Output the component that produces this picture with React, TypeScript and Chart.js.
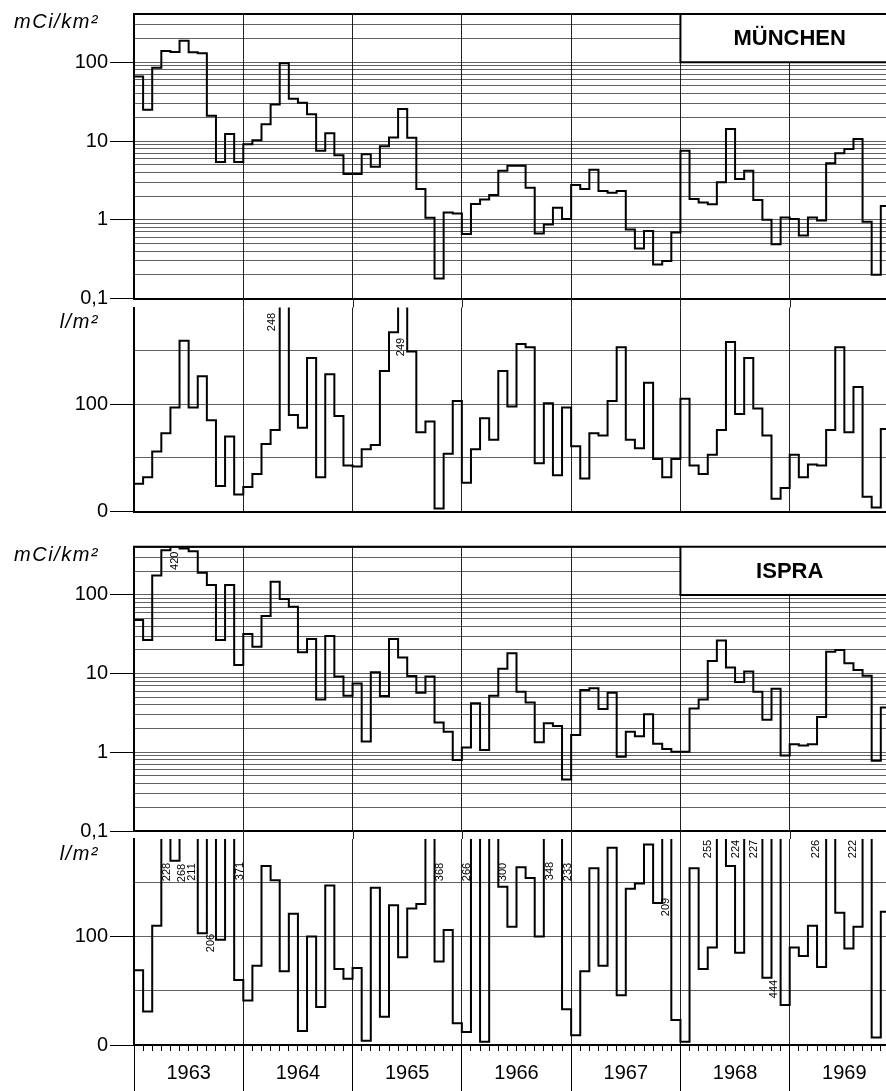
import React, { useEffect, useRef } from 'react';
import { Chart, registerables } from 'chart.js';

Chart.register(...registerables);
Chart.defaults.font.family = '"Liberation Sans", Arial, Helvetica, sans-serif';
Chart.defaults.color = '#000';

// ---------- data (monthly values, Jan 1963 .. Nov 1969) ----------
const YEARS = ['1963', '1964', '1965', '1966', '1967', '1968', '1969'];

const MUENCHEN_FALLOUT = [
  66, 25, 85, 139, 135, 188, 134, 130, 21, 5.4, 12.3, 5.4,
  9.1, 10.2, 16.3, 29, 97, 34.5, 30.7, 21.8, 7.5, 12.5, 6.6, 3.8,
  3.8, 6.8, 4.7, 8.6, 11.1, 25.5, 11, 2.45, 1.06, 0.18, 1.24, 1.2,
  0.66, 1.58, 1.81, 2.06, 4.2, 4.85, 4.85, 2.55, 0.67, 0.87, 1.42, 1.02,
  2.76, 2.45, 4.3, 2.31, 2.2, 2.31, 0.75, 0.43, 0.72, 0.27, 0.3, 0.69,
  7.5, 1.83, 1.66, 1.57, 3.0, 14.2, 3.3, 4.2, 1.78, 1.0, 0.49, 1.07,
  1.02, 0.63, 1.07, 0.98, 5.2, 7.0, 7.9, 10.6, 0.94, 0.2, 1.5,
];

const MUENCHEN_RAIN = [
  26, 32, 56, 73, 97, 159, 97, 126, 85, 24, 70, 16,
  23, 35, 63, 76, 248, 90, 78, 143, 32, 128, 89, 43,
  42, 58, 62, 131, 167, 249, 149, 74, 84, 3, 54, 103,
  27, 58, 87, 67, 131, 98, 156, 153, 45, 101, 34, 97,
  61, 31, 73, 71, 103, 153, 67, 59, 120, 49, 32, 49,
  105, 43, 35, 53, 76, 158, 91, 143, 96, 71, 12, 22,
  53, 32, 44, 43, 76, 153, 74, 116, 14, 4, 77,
];

const ISPRA_FALLOUT = [
  48, 26.8, 176, 370, 420, 390, 360, 192, 134, 26.8, 134, 12.9,
  31.9, 22, 54, 147, 89, 71, 18.7, 27.6, 4.7, 30, 9.2, 5.25,
  7.5, 1.37, 10.4, 5.2, 27.6, 16, 9.3, 5.7, 9.2, 2.4, 1.83, 0.8,
  1.15, 4.2, 1.07, 5.25, 11.5, 18.1, 5.9, 4.3, 1.34, 2.34, 2.16, 0.45,
  1.66, 6.2, 6.5, 3.56, 5.7, 0.88, 1.83, 1.6, 3.04, 1.28, 1.1, 1.02,
  1.02, 3.6, 4.7, 14.5, 26.3, 12, 7.8, 10.6, 5.9, 2.6, 6.4, 0.91,
  1.27, 1.22, 1.27, 2.8, 19, 20, 13.5, 11.1, 9.4, 0.78, 3.7,
];

const ISPRA_RAIN = [
  69, 31, 110, 228, 170, 268, 211, 103, 206, 97, 371, 60,
  41, 73, 165, 152, 68, 121, 13, 100, 35, 147, 70, 61,
  71, 4, 145, 26, 129, 81, 126, 130, 368, 77, 106, 20,
  12, 266, 3, 300, 146, 109, 164, 154, 100, 348, 233, 33,
  9, 68, 163, 73, 182, 46, 144, 149, 185, 131, 209, 23,
  3, 163, 70, 90, 255, 165, 85, 224, 227, 62, 444, 37,
  90, 82, 110, 72, 226, 122, 89, 109, 222, 7, 123,
];

// axis tick values / labels
const LOG_GRID = [
  0.1, 0.2, 0.3, 0.4, 0.5, 0.6, 0.7, 0.8, 0.9,
  1, 2, 3, 4, 5, 6, 7, 8, 9,
  10, 20, 30, 40, 50, 60, 70, 80, 90,
  100, 200, 300, 400,
];
const LOG_LABELS: Record<string, string> = { '0.1': '0,1', '1': '1', '10': '10', '100': '100' };
const RAIN_GRID = [0, 50, 100, 150];
const RAIN_LABELS: Record<string, string> = { '0': '0', '100': '100' };

// ---------- layout ----------
type PanelCfg = {
  id: string;
  values: number[];
  log: boolean;
  canvasTop: number;
  canvasHeight: number;
  areaTop: number;
  areaBottom: number;
  unit: string;
  unitDy: number;
  station?: string;
  topFrame: boolean;
  bottomAxis: boolean;
  connectorGap: number;
  labelPlacement: Record<number, [number, number]>;
};

const FONT = '"Liberation Sans", Arial, Helvetica, sans-serif';
const TOTAL_MONTHS = 84;
const GRID_COLOR = 'rgba(0,0,0,0.62)';
const YEAR_LINE = '#222';
const CLEAR = 'rgba(0,0,0,0)';

const PANELS: PanelCfg[] = [
  {
    id: 'muc-f', values: MUENCHEN_FALLOUT, log: true,
    canvasTop: 0, canvasHeight: 320, areaTop: 14, areaBottom: 298.5,
    unit: 'mCi/km²', unitDy: 8, station: 'MÜNCHEN', topFrame: true, bottomAxis: false,
    connectorGap: 0, labelPlacement: {},
  },
  {
    id: 'muc-r', values: MUENCHEN_RAIN, log: false,
    canvasTop: 290, canvasHeight: 240, areaTop: 307.5, areaBottom: 511.7,
    unit: 'l/m²', unitDy: 15, topFrame: false, bottomAxis: false,
    connectorGap: 9, labelPlacement: { 16: [-1.37, 14.5], 29: [-0.2, 39.5] },
  },
  {
    id: 'isp-f', values: ISPRA_FALLOUT, log: true,
    canvasTop: 520, canvasHeight: 325, areaTop: 546.7, areaBottom: 831,
    unit: 'mCi/km²', unitDy: 9, station: 'ISPRA', topFrame: true, bottomAxis: false,
    connectorGap: 0, labelPlacement: { 4: [0, 14] },
  },
  {
    id: 'isp-r', values: ISPRA_RAIN, log: false,
    canvasTop: 820, canvasHeight: 271, areaTop: 839, areaBottom: 1045,
    unit: 'l/m²', unitDy: 15, topFrame: false, bottomAxis: true,
    connectorGap: 8,
    labelPlacement: {
      3: [0.1, 33], 5: [-0.2, 34], 6: [-0.1, 33], 8: [0, 104], 10: [1.15, 32],
      32: [1.1, 33], 37: [-0.95, 33], 39: [1.0, 33], 45: [0.2, 32], 46: [1.15, 33],
      58: [-0.1, 68], 64: [-1.5, 10], 67: [-1.4, 10], 68: [-0.45, 10], 70: [-0.25, 150],
      76: [-1.65, 10], 80: [-1.6, 10],
    },
  },
];

const decorPlugin = {
  id: 'decor',
  beforeDatasetsDraw(chart: any, _args: any, opts: any) {
    const cfg: PanelCfg = opts.cfg;
    const { ctx, chartArea: a, scales } = chart;
    const xs = scales.x;
    const ys = scales.y;
    ctx.save();
    // year lines continuing through the gap above the panel
    if (cfg.connectorGap) {
      ctx.strokeStyle = YEAR_LINE;
      ctx.lineWidth = 1;
      for (let m = 12; m < TOTAL_MONTHS; m += 12) {
        const px = Math.round(xs.getPixelForValue(m)) + 0.5;
        ctx.beginPath();
        ctx.moveTo(px, a.top - cfg.connectorGap);
        ctx.lineTo(px, a.top);
        ctx.stroke();
      }
    }
    // station box
    if (cfg.station) {
      const x0 = xs.getPixelForValue(60);
      const yb = ys.getPixelForValue(100);
      ctx.fillStyle = '#fff';
      ctx.fillRect(x0, a.top, a.right - x0 + 2, yb - a.top);
      ctx.strokeStyle = '#000';
      ctx.lineWidth = 2;
      ctx.beginPath();
      ctx.moveTo(x0, a.top);
      ctx.lineTo(x0, yb);
      ctx.lineTo(a.right + 2, yb);
      ctx.stroke();
      ctx.fillStyle = '#000';
      ctx.font = `bold 22px ${FONT}`;
      ctx.textAlign = 'center';
      ctx.textBaseline = 'middle';
      ctx.fillText(cfg.station, xs.getPixelForValue(72), (a.top + yb) / 2 + 1);
    }
    // top frame
    if (cfg.topFrame) {
      ctx.strokeStyle = '#000';
      ctx.lineWidth = 2;
      ctx.beginPath();
      ctx.moveTo(a.left - 1, a.top);
      ctx.lineTo(a.right + 2, a.top);
      ctx.stroke();
    }
    // unit label
    ctx.fillStyle = '#000';
    ctx.font = `italic 20px ${FONT}`;
    try { (ctx as any).letterSpacing = '1.5px'; } catch (e) { /* ignore */ }
    ctx.textAlign = 'right';
    ctx.textBaseline = 'middle';
    ctx.fillText(cfg.unit, a.left - 35, a.top + cfg.unitDy);
    try { (ctx as any).letterSpacing = '0px'; } catch (e) { /* ignore */ }
    ctx.restore();
  },
  afterDatasetsDraw(chart: any, _args: any, opts: any) {
    const cfg: PanelCfg = opts.cfg;
    const { ctx, chartArea: a, scales } = chart;
    const yMax = scales.y.max;
    ctx.save();
    ctx.fillStyle = '#000';
    ctx.font = `11px ${FONT}`;
    ctx.textAlign = 'center';
    ctx.textBaseline = 'middle';
    cfg.values.forEach((v, i) => {
      if (v <= yMax) return;
      const place = cfg.labelPlacement[i] || [0, 33];
      const px = scales.x.getPixelForValue(i + 0.5 + place[0]);
      const py = a.top + place[1];
      ctx.save();
      ctx.translate(px, py);
      ctx.rotate(-Math.PI / 2);
      ctx.fillText(String(v), 0, 0);
      ctx.restore();
    });
    ctx.restore();
  },
};

function makeChart(canvas: HTMLCanvasElement, cfg: PanelCfg) {
  const yMax = cfg.log ? 410 : 190;
  const points = cfg.values.map((v, i) => ({ x: i, y: v }));
  points.push({ x: cfg.values.length, y: cfg.values[cfg.values.length - 1] });
  const gridVals = cfg.log ? LOG_GRID : RAIN_GRID;
  const labels = cfg.log ? LOG_LABELS : RAIN_LABELS;
  const bottomAxisHeight = cfg.bottomAxis ? 46 : 0;

  const xTicks: number[] = [];
  const step = cfg.bottomAxis ? 1 : 12;
  for (let m = 0; m <= TOTAL_MONTHS; m += step) xTicks.push(m);
  const halfYears: number[] = [];
  for (let m = 0; m <= TOTAL_MONTHS; m += 6) halfYears.push(m);

  const scales: any = {
    x: {
      type: 'linear',
      position: 'bottom',
      min: 0,
      max: TOTAL_MONTHS,
      weight: 0,
      afterBuildTicks: (s: any) => { s.ticks = xTicks.map((v) => ({ value: v })); },
      afterFit: (s: any) => { s.height = cfg.bottomAxis ? 6 : 0; },
      ticks: { display: false, autoSkip: false },
      grid: {
        color: (c: any) => (c.tick && c.tick.value % 12 === 0 && c.tick.value > 0 && c.tick.value < TOTAL_MONTHS ? YEAR_LINE : CLEAR),
        lineWidth: 1,
        drawTicks: cfg.bottomAxis,
        tickLength: 6,
        tickColor: '#000',
        tickWidth: 1,
      },
      border: { display: true, color: '#000', width: 2 },
    },
    y: {
      type: cfg.log ? 'logarithmic' : 'linear',
      position: 'left',
      min: cfg.log ? 0.1 : 0,
      max: yMax,
      afterBuildTicks: (s: any) => { s.ticks = gridVals.map((v) => ({ value: v })); },
      afterFit: (s: any) => { s.width = 134; },
      ticks: {
        autoSkip: false,
        color: '#000',
        padding: 2,
        font: { size: 20 },
        callback: (v: any) => labels[String(v)] ?? '',
      },
      grid: {
        color: (c: any) => {
          const v = c.tick ? c.tick.value : null;
          if (v === null) return CLEAR;
          if (cfg.log) return v === 0.1 ? CLEAR : GRID_COLOR;
          return v === 0 ? CLEAR : GRID_COLOR;
        },
        lineWidth: 1,
        drawTicks: true,
        tickLength: 24,
        tickColor: (c: any) => (c.tick && labels[String(c.tick.value)] !== undefined ? '#000' : CLEAR),
        tickWidth: 1,
      },
      border: { display: true, color: '#000', width: 2 },
    },
  };

  if (cfg.bottomAxis) {
    scales.xy = {
      type: 'linear',
      position: 'bottom',
      min: 0,
      max: TOTAL_MONTHS,
      weight: 1,
      afterBuildTicks: (s: any) => { s.ticks = halfYears.map((v) => ({ value: v })); },
      afterFit: (s: any) => { s.height = 40; },
      ticks: {
        autoSkip: false,
        maxRotation: 0,
        minRotation: 0,
        padding: -30,
        color: '#000',
        font: { size: 20 },
        callback: (v: any) => (v % 12 === 6 ? YEARS[(v - 6) / 12] : ''),
      },
      grid: {
        drawOnChartArea: false,
        drawTicks: true,
        tickLength: 40,
        tickColor: (c: any) => (c.tick && c.tick.value % 12 === 0 ? '#000' : CLEAR),
        tickWidth: 1,
        color: CLEAR,
      },
      border: { display: false },
    };
  }

  return new Chart(canvas, {
    type: 'line',
    data: {
      datasets: [
        {
          data: points,
          borderColor: '#000',
          borderWidth: 2,
          pointRadius: 0,
          stepped: true,
          fill: false,
          tension: 0,
          xAxisID: 'x',
          yAxisID: 'y',
        },
      ],
    },
    options: {
      responsive: false,
      maintainAspectRatio: false,
      animation: false,
      events: [],
      layout: {
        padding: {
          left: 0,
          right: 1,
          top: cfg.areaTop - cfg.canvasTop,
          bottom: cfg.canvasTop + cfg.canvasHeight - cfg.areaBottom - bottomAxisHeight,
        },
      },
      plugins: {
        legend: { display: false },
        tooltip: { enabled: false },
        title: { display: false },
        decor: { cfg },
      } as any,
      scales,
    },
    plugins: [decorPlugin],
  });
}

function Panel({ cfg }: { cfg: PanelCfg }) {
  const ref = useRef<HTMLCanvasElement>(null);
  useEffect(() => {
    if (!ref.current) return;
    const chart = makeChart(ref.current, cfg);
    return () => chart.destroy();
  }, [cfg]);
  return (
    <canvas
      ref={ref}
      width={900}
      height={cfg.canvasHeight}
      style={{ position: 'absolute', left: 0, top: cfg.canvasTop, width: 900, height: cfg.canvasHeight }}
    />
  );
}

export default function App() {
  return (
    <div
      style={{
        position: 'absolute',
        left: 0,
        top: 0,
        width: 886,
        height: 1091,
        overflow: 'hidden',
        background: '#fff',
      }}
    >
      {PANELS.map((p) => (
        <Panel key={p.id} cfg={p} />
      ))}
    </div>
  );
}
